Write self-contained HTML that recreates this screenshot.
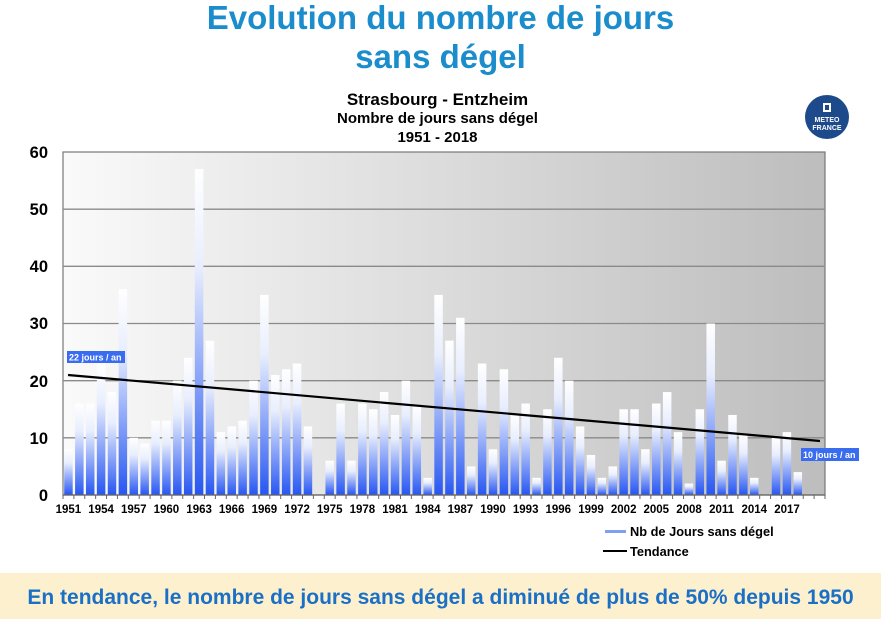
<!DOCTYPE html>
<html><head><meta charset="utf-8"><style>
body{margin:0;width:881px;height:619px;background:#fff;overflow:hidden;font-family:"Liberation Sans",Arial,sans-serif;position:relative}
.t{position:absolute;left:0;width:881px;text-align:center;color:#1b8ccc;font-weight:bold;font-size:33px}
.s{position:absolute;left:0;width:881px;text-align:center;font-weight:bold;color:#000}
.band{position:absolute;left:0;top:573px;width:881px;height:46px;background:#fdf0cf;color:#1a70c6;font-weight:bold;font-size:21px;text-align:center;line-height:50px}
</style></head><body>
<div class="t" style="top:-1px">Evolution du nombre de jours</div>
<div class="t" style="top:38px">sans dégel</div>
<div class="s" style="top:90px;font-size:17px;left:-3px">Strasbourg - Entzheim</div>
<div class="s" style="top:110px;font-size:15px;left:-3px">Nombre de jours sans dégel</div>
<div class="s" style="top:129px;font-size:15px;left:-3px">1951 - 2018</div>
<svg width="881" height="619" style="position:absolute;left:0;top:0" id="sv">
<defs>
<linearGradient id="bg" x1="0" y1="0" x2="1" y2="0"><stop offset="0" stop-color="#fafafa"/><stop offset="1" stop-color="#bdbdbd"/></linearGradient>
<linearGradient id="bar" x1="0" y1="0" x2="0" y2="1"><stop offset="0" stop-color="#ffffff"/><stop offset="0.3" stop-color="#e8eefe"/><stop offset="1" stop-color="#2656f2"/></linearGradient>
</defs>
<circle cx="827" cy="117" r="22" fill="#1d4a8a"/>
<rect x="823" y="103" width="8" height="9" fill="#fff"/><rect x="825" y="105" width="4" height="5" fill="#1d4a8a"/>
<text x="827" y="122" font-size="7" font-weight="bold" fill="#fff" text-anchor="middle">METEO</text>
<text x="827" y="130" font-size="7" font-weight="bold" fill="#fff" text-anchor="middle">FRANCE</text>
<rect x="63" y="152" width="762" height="343" fill="url(#bg)" stroke="#777" stroke-width="1.2"/>
<g stroke="#8a8a8a" stroke-width="1.3">
<line x1="63" y1="209.2" x2="825" y2="209.2"/><line x1="63" y1="266.3" x2="825" y2="266.3"/><line x1="63" y1="323.5" x2="825" y2="323.5"/><line x1="63" y1="380.7" x2="825" y2="380.7"/><line x1="63" y1="437.8" x2="825" y2="437.8"/>
</g>
<g id="bars"></g>
<line x1="63" y1="495" x2="825" y2="495" stroke="#666" stroke-width="1.2"/>
<g id="ticks" stroke="#666"></g>
<line x1="68" y1="375" x2="820" y2="441" stroke="#000" stroke-width="2.2"/>
<rect x="67" y="351" width="58" height="12" fill="#3a6cf0"/>
<text x="69" y="360.5" font-size="9" font-weight="bold" fill="#fff">22 jours / an</text>
<rect x="801" y="448" width="58" height="13" fill="#3a6cf0"/>
<text x="803" y="458" font-size="9" font-weight="bold" fill="#fff">10 jours / an</text>
<g font-size="16.5" font-weight="bold" text-anchor="end" fill="#000">
<text x="48" y="158">60</text><text x="48" y="215">50</text><text x="48" y="272">40</text><text x="48" y="329">30</text><text x="48" y="387">20</text><text x="48" y="444">10</text><text x="48" y="501">0</text>
</g>
<g font-size="11.5" font-weight="bold" text-anchor="middle" fill="#000">
<text x="68.4" y="513">1951</text><text x="101.1" y="513">1954</text><text x="133.8" y="513">1957</text><text x="166.4" y="513">1960</text><text x="199.1" y="513">1963</text><text x="231.7" y="513">1966</text><text x="264.4" y="513">1969</text><text x="297.1" y="513">1972</text><text x="329.7" y="513">1975</text><text x="362.4" y="513">1978</text><text x="395" y="513">1981</text><text x="427.7" y="513">1984</text><text x="460.4" y="513">1987</text><text x="493" y="513">1990</text><text x="525.7" y="513">1993</text><text x="558.3" y="513">1996</text><text x="591" y="513">1999</text><text x="623.7" y="513">2002</text><text x="656.3" y="513">2005</text><text x="689" y="513">2008</text><text x="721.6" y="513">2011</text><text x="754.3" y="513">2014</text><text x="787" y="513">2017</text>
</g>
<rect x="605" y="530" width="21" height="3" fill="#7f9ff5"/>
<text x="630" y="536" font-size="12.8" font-weight="bold">Nb de Jours sans dégel</text>
<line x1="603" y1="551" x2="627" y2="551" stroke="#000" stroke-width="2"/>
<text x="630" y="556" font-size="12.8" font-weight="bold">Tendance</text>
</svg>
<div class="band">En tendance, le nombre de jours sans dégel a diminué de plus de 50% depuis 1950</div>
<script>
var v=[8,16,16,23,18,36,10,9,13,13,20,24,57,27,11,12,13,20,35,21,22,23,12,0,6,16,6,16,15,18,14,20,15.5,3,35,27,31,5,23,8,22,14,16,3,15,24,20,12,7,3,5,15,15,8,16,18,11,2,15,30,6,14,10.5,3,0,10,11,4];
var ns="http://www.w3.org/2000/svg",g=document.getElementById("bars"),tk=document.getElementById("ticks"),w=762/70;
for(var i=0;i<v.length;i++){if(!v[i])continue;var h=v[i]*343/60,r=document.createElementNS(ns,"rect");
r.setAttribute("x",63+i*w+1.2);r.setAttribute("width",8.5);r.setAttribute("y",495-h);r.setAttribute("height",h);r.setAttribute("fill","url(#bar)");g.appendChild(r);}
for(var i=0;i<=70;i++){var l=document.createElementNS(ns,"line");var x=63+i*w;l.setAttribute("x1",x);l.setAttribute("x2",x);l.setAttribute("y1",495);l.setAttribute("y2",499);tk.appendChild(l);}
</script>
</body></html>
